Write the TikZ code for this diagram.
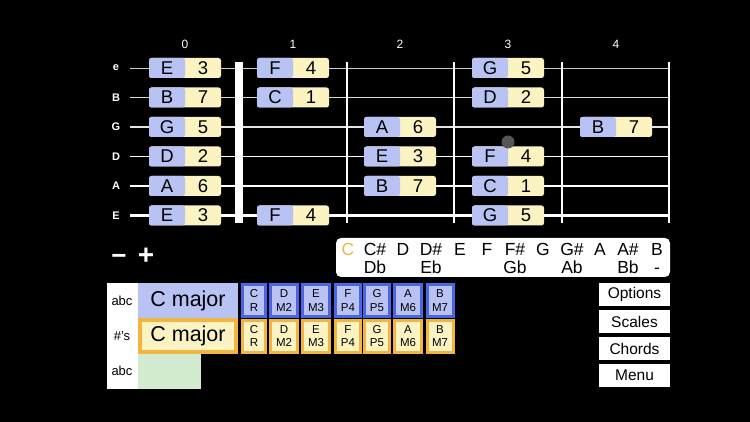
\documentclass[tikz,border=0pt]{standalone}
\usepackage{fontspec}
\setmainfont{Liberation Sans}
\definecolor{noteblue}{HTML}{B8C3F4}
\definecolor{noteyellow}{HTML}{FBF3C2}
\definecolor{boxblue}{HTML}{4A66E8}
\definecolor{boxorange}{HTML}{F2B443}
\definecolor{palegreen}{HTML}{D3EBCF}
\definecolor{dotgrey}{HTML}{555555}

\begin{document}
\begin{tikzpicture}[x=1pt, y=-1pt,
    note/.style = {rounded corners=2.5pt, minimum width=72pt, minimum height=20pt, inner sep=0pt,
        fill=noteyellow, font=\fontsize{18.5}{18.5}\selectfont,
        path picture={\fill[noteblue] (path picture bounding box.south west) rectangle (path picture bounding box.north);}},
    fretnum/.style = {text=white, font=\fontsize{12}{12}\selectfont},
    strname/.style = {text=white, font=\bfseries\fontsize{11}{11}\selectfont},
    ivblue/.style = {draw=boxblue, line width=3pt, fill=noteblue, minimum height=32pt, inner sep=0pt,
        align=center, font=\fontsize{11.5}{13.5}\selectfont},
    ivyellow/.style = {ivblue, draw=boxorange, fill=noteyellow},
    side/.style = {font=\fontsize{13}{13}\selectfont},
    chrom/.style = {font=\fontsize{17.5}{17.5}\selectfont, inner sep=0pt, anchor=base,
        text height=12.5pt, text depth=3.5pt},
    button/.style = {fill=white, minimum width=71pt, minimum height=23pt, inner sep=0pt, font=\fontsize{15.5}{15.5}\selectfont}]

    % background
    \fill[black] (0,0) rectangle (750,422);
    \useasboundingbox (0,0) rectangle (750,422);

    % fret numbers
    \foreach \n/\x in {0/185, 1/293, 2/400, 3/508, 4/616}
        \node[fretnum] (num\n) at (\x,44) {\n};

    % strings
    \foreach \s/\y/\w/\c in {e/68/0.9/gray!40, B/97.5/1.2/gray!30, G/127/1.5/gray!20,
                             D/156.5/1.9/white, A/186/2.3/white, E/215.5/2.8/white} {
        \node[strname] (str\s) at (116,\y) {\s};
        \coordinate (a\s) at (130,\y);
        \coordinate (b\s) at (669,\y);
        \draw[\c, line width=\w pt] (a\s) -- (b\s);
    }

    % nut and frets
    \fill[white] (235,62) rectangle (243,223);
    \foreach \x in {347, 454, 562, 669}
        \draw[white, line width=2pt] (\x,62) -- (\x,223);

    % notes
    \foreach \f/\x/\s/\n/\d in {0/185/e/E/3, 0/185/B/B/7, 0/185/G/G/5, 0/185/D/D/2, 0/185/A/A/6, 0/185/E/E/3,
                                1/293/e/F/4, 1/293/B/C/1, 1/293/E/F/4,
                                2/400/G/A/6, 2/400/D/E/3, 2/400/A/B/7,
                                3/508/e/G/5, 3/508/B/D/2, 3/508/D/F/4, 3/508/A/C/1, 3/508/E/G/5,
                                4/616/G/B/7}
        \node[note] (n\f\s) at (\x,0 |- a\s) {\makebox[36pt]{\n}\makebox[36pt]{\d}};
    \fill[dotgrey] (508,142) circle (6.5);

    % minus / plus
    \node[text=white, font=\bfseries\fontsize{26}{26}\selectfont] (minus) at (119,259) {−};
    \node[text=white, font=\bfseries\fontsize{28}{28}\selectfont] (plus) at (146,256) {+};

    % chromatic scale
    \fill[white, rounded corners=5pt] (336,238) rectangle (670,277);
    \node[chrom, text=boxorange] (chC) at (348,256) {C};
    \foreach \x/\t/\b [count=\i] in {375/C\#/Db, 403/D/, 431/D\#/Eb, 460/E/, 487/F/, 515/F\#/Gb,
                                     543/G/, 572/G\#/Ab, 600/A/, 628/A\#/Bb, 657/B/-} {
        \node[chrom] (ch\i) at (\x,256) {\t};
        \node[chrom] (chb\i) at (\x,273) {\b};
    }

    % scale panel
    \fill[white] (107,283) rectangle (138,389);
    \node[side] (lab1) at (122,301) {abc};
    \node[side] (lab2) at (122,336) {\#'s};
    \node[side] (lab3) at (122,371) {abc};
    \fill[noteblue] (138,283) rectangle (238,318);
    \node[font=\fontsize{21.5}{21.5}\selectfont] (scale1) at (188,301) {C major};
    \draw[boxorange, line width=4pt, fill=noteyellow] (140,320) rectangle (236,352);
    \node[font=\fontsize{21.5}{21.5}\selectfont] (scale2) at (188,336) {C major};
    \fill[palegreen] (138,354) rectangle (201,389);

    % interval boxes
    \foreach \x/\w/\n/\i in {254/23/C/R, 284/27/D/M2, 316/27/E/M3, 348/25/F/P4,
                             377/25/G/P5, 408/27/A/M6, 440/26/B/M7} {
        \node[ivblue, minimum width=\w pt] (ivb\n) at (\x,300.5) {\n\\\i};
        \node[ivyellow, minimum width=\w pt] (ivy\n) at (\x,336) {\n\\\i};
    }

    % buttons
    \node[button] (options) at (634.5,294.5) {Options};
    \node[button] (scales) at (634.5,321.5) {Scales};
    \node[button] (chords) at (634.5,348.5) {Chords};
    \node[button] (menu) at (634.5,375) {Menu};
\end{tikzpicture}
\end{document}
